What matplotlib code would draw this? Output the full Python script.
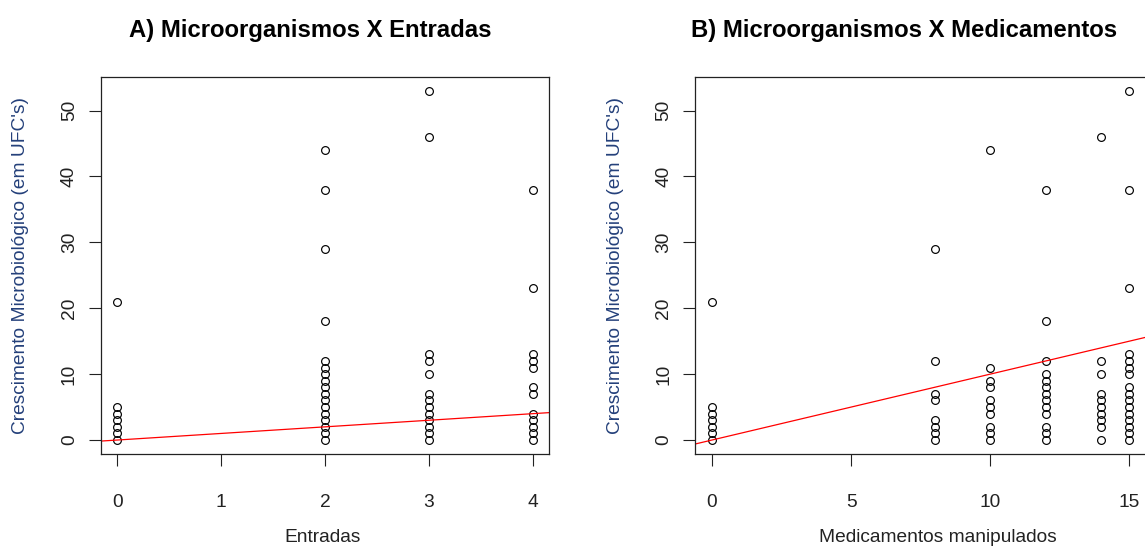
import numpy as np
import matplotlib
matplotlib.use("Agg")
import matplotlib.pyplot as plt

plt.rcParams['font.family'] = ['Liberation Sans', 'DejaVu Sans']

# A) entradas x crescimento (UFC)
entradas_x = [0, 2, 3, 4]
entradas_y = [
    [0, 1, 2, 3, 4, 5, 21],
    [0, 1, 2, 3, 4, 5, 6, 7, 8, 9, 10, 11, 12, 18, 29, 38, 44],
    [0, 1, 2, 3, 4, 5, 6, 7, 10, 12, 13, 46, 53],
    [0, 1, 2, 3, 4, 7, 8, 11, 12, 13, 23, 38],
]

# B) medicamentos manipulados x crescimento (UFC)
med_x = [0, 8, 10, 12, 14, 15]
med_y = [
    [0, 1, 2, 3, 4, 5, 21],
    [0, 1, 2, 3, 6, 7, 12, 29],
    [0, 1, 2, 4, 5, 6, 8, 9, 11, 44],
    [0, 1, 2, 4, 5, 6, 7, 8, 9, 10, 12, 18, 38],
    [0, 2, 3, 4, 5, 6, 7, 10, 12, 46],
    [0, 1, 2, 3, 4, 5, 6, 7, 8, 10, 11, 12, 13, 23, 38, 53],
]

# abline(0, 1)
line_a = 0
line_b = 1

titles = ["A) Microorganismos X Entradas", "B) Microorganismos X Medicamentos"]
xlabels = ["Entradas", "Medicamentos manipulados"]
ylabel = "Crescimento Microbiológico (em UFC's)"
xticks = [[0, 1, 2, 3, 4], [0, 5, 10, 15]]
yticks = [0, 10, 20, 30, 40, 50]

W, H = 1145, 550
fig = plt.figure(figsize=(W / 100, H / 100), dpi=100)

def px(x0, y0, x1, y1):
    return [x0 / W, 1 - y1 / H, (x1 - x0) / W, (y1 - y0) / H]

axes = [fig.add_axes(px(100.7, 76.8, 549.3, 454)),
        fig.add_axes(px(695.3, 76.8, 1146, 454))]

groups = [(entradas_x, entradas_y), (med_x, med_y)]
ylab_color = '#24407a'

for i, ax in enumerate(axes):
    gx, gy = groups[i]
    xs = np.concatenate([[x] * len(v) for x, v in zip(gx, gy)])
    ys = np.concatenate(gy)
    ax.plot(xs, ys, 'o', mfc='none', mec='black', ms=5.6, mew=0.85, clip_on=False)
    ax.axline((0, line_a), slope=line_b, color='#ff0000', lw=0.9)

    xmin, xmax = min(gx), max(gx)
    pad = 0.04 * (xmax - xmin)
    ax.set_xlim(xmin - pad, xmax + pad)
    ax.set_ylim(-0.04 * 53, 53 * 1.04)
    ax.set_xticks(xticks[i])
    ax.set_yticks(yticks)
    ax.tick_params(axis='both', direction='out', length=8.5, width=0.8,
                   labelsize=13.8, colors='#222222')
    ax.tick_params(axis='x', pad=20)
    ax.tick_params(axis='y', pad=8)
    for lab in ax.get_yticklabels():
        lab.set_rotation(90)
        lab.set_va('center')
    for s in ax.spines.values():
        s.set_linewidth(0.9)
        s.set_color('#222222')

fig.text(310 / W, 1 - 30 / H, titles[0], ha='center', va='center',
         fontsize=17.2, fontweight='bold', color='black')
fig.text(904 / W, 1 - 30 / H, titles[1], ha='center', va='center',
         fontsize=17.2, fontweight='bold', color='black')
fig.text(323 / W, 1 - 538 / H, xlabels[0], ha='center', va='center',
         fontsize=13.8, color='#222222')
fig.text(938 / W, 1 - 538 / H, xlabels[1], ha='center', va='center',
         fontsize=13.8, color='#222222')
fig.text(21 / W, 1 - 265 / H, ylabel, ha='center', va='center', rotation=90,
         fontsize=13.8, color=ylab_color)
fig.text(616 / W, 1 - 265 / H, ylabel, ha='center', va='center', rotation=90,
         fontsize=13.8, color=ylab_color)

fig.savefig('out.png', dpi=100)
